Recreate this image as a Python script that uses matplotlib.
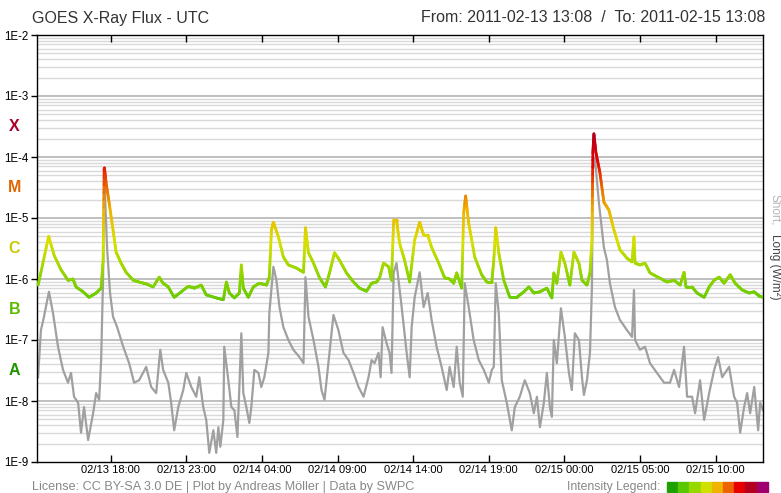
import numpy as np
import matplotlib
matplotlib.use("Agg")
import matplotlib.pyplot as plt
from matplotlib.collections import LineCollection
from matplotlib.colors import LinearSegmentedColormap

plt.rcParams['font.family'] = ['Liberation Sans', 'DejaVu Sans']

# ---- data: hours since 2011-02-13 13:08 UTC, log10 flux (W/m^2) ----
long_h = [0.07, 0.26, 0.77, 1.13, 1.59, 2.05, 2.38, 2.58, 3.05, 3.44, 3.91, 4.24, 4.37, 4.44, 4.46, 4.57,
          4.77, 5.03, 5.23, 5.56, 5.89, 6.36, 6.75, 7.22, 7.68, 8.08, 8.34, 8.68, 9.07, 9.54, 10.00, 10.40,
          10.86, 11.19, 11.85, 12.32, 12.52, 12.72, 13.05, 13.38, 13.51, 13.64, 13.97, 14.30, 14.70, 15.17,
          15.36, 15.50, 15.63, 15.96, 16.29, 16.62, 17.15, 17.62, 17.75, 17.95, 18.28, 18.68, 19.07, 19.34,
          19.67, 20.00, 20.46, 20.93, 21.32, 21.79, 22.12, 22.45, 22.65, 22.91, 23.25, 23.44, 23.58, 23.77,
          23.97, 24.30, 24.64, 24.97, 25.30, 25.56, 25.83, 26.09, 26.56, 26.95, 27.28, 27.55, 27.75, 28.08,
          28.21, 28.34, 28.54, 28.94, 29.40, 29.74, 30.07, 30.20, 30.33, 30.53, 30.86, 31.26, 31.72, 32.19,
          32.52, 32.85, 33.25, 33.71, 34.04, 34.17, 34.37, 34.64, 34.90, 35.23, 35.50, 35.83, 36.03, 36.36,
          36.56, 36.69, 36.75, 36.82, 36.95, 37.22, 37.48, 37.81, 38.15, 38.54, 39.01, 39.34, 39.47, 39.54,
          39.87, 40.20, 40.53, 41.13, 41.66, 42.12, 42.52, 42.78, 42.91, 43.31, 43.64, 44.11, 44.44, 44.77,
          45.10, 45.43, 45.83, 46.16, 46.62, 47.09, 47.42, 47.75, 48.00]
long_log = [-6.10, -5.89, -5.30, -5.61, -5.85, -6.02, -6.00, -6.13, -6.21, -6.30, -6.23, -6.15, -5.69, -4.21,
            -4.18, -4.43, -4.75, -5.20, -5.56, -5.74, -5.89, -6.02, -6.05, -6.08, -6.13, -5.97, -6.07, -6.13,
            -6.30, -6.21, -6.12, -6.15, -6.10, -6.26, -6.31, -6.34, -6.05, -6.23, -6.31, -6.23, -5.77, -6.15,
            -6.30, -6.13, -6.07, -6.10, -5.97, -5.20, -5.07, -5.31, -5.64, -5.77, -5.82, -5.89, -5.16, -5.57,
            -5.74, -5.98, -6.13, -5.90, -5.57, -5.69, -5.90, -6.05, -6.15, -6.20, -6.07, -6.05, -5.98, -5.74,
            -5.80, -6.02, -5.03, -5.03, -5.41, -5.69, -6.05, -5.36, -5.07, -5.28, -5.28, -5.48, -5.74, -5.98,
            -6.00, -6.07, -5.90, -6.15, -4.92, -4.64, -5.08, -5.64, -5.93, -6.05, -6.05, -5.69, -5.16, -5.57,
            -6.02, -6.30, -6.30, -6.21, -6.13, -6.23, -6.21, -6.15, -6.31, -5.90, -6.07, -5.56, -5.74, -6.10,
            -5.56, -5.74, -6.02, -6.10, -5.90, -5.36, -3.93, -3.62, -3.92, -4.26, -4.74, -4.87, -5.20, -5.52,
            -5.66, -5.72, -5.31, -5.74, -5.77, -5.74, -5.90, -5.98, -6.05, -6.02, -6.10, -5.89, -6.13, -6.13,
            -6.23, -6.30, -6.13, -6.02, -5.97, -6.07, -5.93, -6.07, -6.18, -6.23, -6.21, -6.28, -6.30]

short_h = [0.07, 0.26, 0.46, 0.79, 1.06, 1.39, 1.72, 2.05, 2.25, 2.45, 2.72, 2.91, 3.11, 3.38, 3.71, 3.91,
           4.11, 4.24, 4.37, 4.44, 4.47, 4.64, 4.83, 5.03, 5.30, 5.70, 6.09, 6.42, 6.75, 7.22, 7.55, 7.88,
           8.15, 8.34, 8.68, 8.87, 9.07, 9.34, 9.67, 9.87, 10.20, 10.53, 10.73, 10.99, 11.19, 11.39, 11.66,
           11.85, 11.99, 12.12, 12.32, 12.38, 12.65, 12.85, 13.05, 13.25, 13.38, 13.51, 13.64, 13.84, 14.04,
           14.17, 14.37, 14.64, 14.83, 15.03, 15.30, 15.36, 15.63, 15.83, 16.03, 16.29, 16.62, 16.95, 17.35,
           17.62, 17.75, 17.95, 18.28, 18.61, 18.81, 19.01, 19.34, 19.60, 19.93, 20.26, 20.60, 20.93, 21.26,
           21.59, 21.92, 22.12, 22.32, 22.58, 22.72, 22.85, 23.11, 23.31, 23.44, 23.58, 23.77, 24.11, 24.44,
           24.64, 24.77, 24.97, 25.30, 25.56, 25.83, 26.09, 26.42, 26.75, 27.09, 27.28, 27.55, 27.75, 27.95,
           28.15, 28.28, 28.54, 28.87, 29.21, 29.54, 29.87, 30.07, 30.20, 30.33, 30.53, 30.73, 31.06, 31.39,
           31.59, 31.92, 32.25, 32.58, 32.85, 33.05, 33.25, 33.51, 33.71, 33.91, 34.04, 34.17, 34.37, 34.64,
           34.90, 35.17, 35.36, 35.56, 35.83, 36.03, 36.16, 36.36, 36.56, 36.69, 36.75, 36.89, 37.15, 37.48,
           37.68, 37.88, 38.21, 38.54, 39.01, 39.34, 39.47, 39.54, 39.87, 40.20, 40.53, 40.99, 41.46, 41.85,
           42.12, 42.45, 42.78, 42.98, 43.31, 43.51, 43.84, 44.11, 44.44, 44.77, 45.03, 45.30, 45.76, 46.09,
           46.29, 46.49, 46.75, 46.95, 47.15, 47.42, 47.68, 47.81, 48.00]
short_log = [-7.61, -6.84, -6.62, -6.21, -6.56, -7.11, -7.49, -7.70, -7.54, -7.93, -8.03, -8.52, -8.10, -8.64,
             -8.20, -7.87, -7.98, -7.33, -5.97, -4.43, -4.46, -5.52, -6.23, -6.62, -6.79, -7.11, -7.38, -7.70,
             -7.66, -7.44, -7.77, -7.87, -7.16, -7.49, -7.70, -8.03, -8.48, -8.10, -7.82, -7.54, -7.77, -7.93,
             -7.61, -8.10, -8.31, -8.85, -8.48, -8.85, -8.43, -8.75, -8.31, -7.11, -7.66, -8.10, -8.15, -8.59,
             -7.77, -6.89, -7.87, -8.10, -8.36, -8.10, -7.49, -7.54, -7.77, -7.61, -7.21, -6.56, -5.80, -6.02,
             -6.46, -6.79, -7.00, -7.16, -7.28, -7.38, -5.97, -6.62, -7.00, -7.44, -7.82, -7.98, -7.21, -6.59,
             -6.84, -7.21, -7.33, -7.54, -7.77, -7.93, -7.61, -7.33, -7.38, -7.21, -7.61, -6.79, -7.05, -7.21,
             -7.54, -5.90, -5.74, -6.46, -7.21, -7.61, -6.79, -6.30, -5.89, -6.46, -6.23, -6.67, -7.11, -7.44,
             -7.82, -7.44, -7.77, -7.11, -7.70, -7.93, -6.07, -6.46, -7.00, -7.33, -7.49, -7.70, -7.49, -7.44,
             -6.07, -6.56, -7.66, -8.03, -8.48, -8.10, -7.93, -7.66, -7.87, -8.20, -7.93, -8.43, -8.03, -7.54,
             -8.10, -8.26, -7.00, -7.38, -6.48, -6.95, -7.54, -7.82, -6.89, -7.00, -7.61, -7.90, -7.66, -7.21,
             -6.13, -4.21, -4.02, -4.75, -5.48, -5.69, -6.07, -6.46, -6.67, -6.84, -6.95, -6.18, -7.00, -7.16,
             -7.11, -7.38, -7.54, -7.70, -7.70, -7.49, -7.77, -7.11, -7.93, -7.93, -8.20, -7.66, -8.31, -7.87,
             -7.49, -7.28, -7.61, -7.44, -7.93, -8.03, -8.52, -8.10, -7.87, -8.20, -7.77, -8.48, -8.03, -8.15]

tick_hours = [4.87, 9.87, 14.87, 19.87, 24.87, 29.87, 34.87, 39.87, 44.87]
tick_labels = ["02/13 18:00", "02/13 23:00", "02/14 04:00", "02/14 09:00", "02/14 14:00",
               "02/14 19:00", "02/15 00:00", "02/15 05:00", "02/15 10:00"]
decade_labels = ["1E-9", "1E-8", "1E-7", "1E-6", "1E-5", "1E-4", "1E-3", "1E-2"]
class_letters = ["A", "B", "C", "M", "X"]
class_colors = ["#1e9600", "#5cb800", "#c8c800", "#e06400", "#a8002a"]
legend_colors = ["#1ea000", "#5ac800", "#96d800", "#d2e000", "#f0b400", "#eb6400", "#e60000", "#b4001e", "#a0006e"]

# ---- figure ----
W, H = 781, 493
fig = plt.figure(figsize=(W / 100, H / 100), dpi=100)
L, R, T, B = 37, 763, 35, 462
ax = fig.add_axes([L / W, 1 - B / H, (R - L) / W, (B - T) / H])
ax.set_yscale('log')
ax.set_ylim(1e-9, 1e-2)
ax.set_xlim(0, 48)

# grid lines
for d in range(-9, -2):
    for m in range(2, 10):
        ax.axhline(m * 10.0 ** d, color='#d9d9d9', lw=1.0, zorder=0)
for d in range(-8, -2):
    ax.axhline(10.0 ** d, color='#b4b4b4', lw=1.2, zorder=0)

# short channel
sh = np.array(short_h)
sv = 10.0 ** np.array(short_log)
ax.plot(sh, sv, color='#a0a0a0', lw=1.6, zorder=2)

# long channel, colored by intensity
lh = np.array(long_h)
llog = np.array(long_log)
cmap = LinearSegmentedColormap.from_list('int', [(0.0, '#1ea000'), (0.18, '#5ac800'), (0.3, '#8cd400'),
                                                 (0.45, '#d8e000'), (0.58, '#f0b400'), (0.68, '#eb6400'),
                                                 (0.78, '#e60000'), (0.9, '#b4001e'), (1.0, '#a0006e')])
segs, cs = [], []
for i in range(len(lh) - 1):
    n = 12
    for k in range(n):
        t0, t1 = k / n, (k + 1) / n
        xa = lh[i] + (lh[i + 1] - lh[i]) * t0
        xb = lh[i] + (lh[i + 1] - lh[i]) * t1
        ya = llog[i] + (llog[i + 1] - llog[i]) * t0
        yb = llog[i] + (llog[i + 1] - llog[i]) * t1
        segs.append([(xa, 10 ** ya), (xb, 10 ** yb)])
        v = (ya + yb) / 2
        cs.append(cmap(np.clip(0.27 + (v + 6.1) * 0.254, 0, 1)))
lc = LineCollection(segs, colors=cs, linewidths=2.0, zorder=3, capstyle='round')
ax.add_collection(lc)

# axes styling
for s in ax.spines.values():
    s.set_color('black')
    s.set_linewidth(1.0)
ax.set_yticks([10.0 ** d for d in range(-9, -1)])
ax.set_yticklabels(decade_labels)
ax.yaxis.set_minor_locator(matplotlib.ticker.NullLocator())
ax.tick_params(axis='y', which='major', length=4, width=1, direction='out', labelsize=8.3, pad=2, colors='black')
ax.set_xticks(tick_hours)
ax.set_xticklabels(tick_labels)
ax.tick_params(axis='x', which='major', length=5, width=1, direction='in', top=True, labelsize=8.0, pad=2)

# class letters
for i, (lt, c) in enumerate(zip(class_letters, class_colors)):
    yv = 10.0 ** (-7.5 + i)
    ax.text(-0.031, yv, lt, transform=ax.get_yaxis_transform(), ha='center', va='center',
            fontsize=11.5, fontweight='bold', color=c)

# titles
fig.text(32 / W, 1 - 18 / H, "GOES X-Ray Flux - UTC", fontsize=11.5, color='#333333', va='center', ha='left')
fig.text(765 / W, 1 - 18 / H, "From: 2011-02-13 13:08  /  To: 2011-02-15 13:08", fontsize=11.5,
         color='#333333', va='center', ha='right')

# right label
fig.text(775 / W, 1 - 210 / H, "Short,", rotation=-90, fontsize=8.5, color='#b4b4b4', ha='center', va='center')
fig.text(775 / W, 1 - 267 / H, "Long (W/m²)", rotation=-90, fontsize=8.5, color='#444444', ha='center', va='center')

# footer
fig.text(32 / W, 1 - 487 / H, "License: CC BY-SA 3.0 DE | Plot by Andreas Möller | Data by SWPC",
         fontsize=9.1, color='#888888', va='center', ha='left')
fig.text(660 / W, 1 - 487 / H, "Intensity Legend:", fontsize=8.8, color='#888888', va='center', ha='right')
sq = 11.2
for i, c in enumerate(legend_colors):
    fig.patches.append(matplotlib.patches.Rectangle(((667 + i * sq) / W, 1 - 492 / H), sq / W, 10 / H,
                                                    transform=fig.transFigure, color=c, figure=fig))

fig.savefig("out.png", dpi=100)
